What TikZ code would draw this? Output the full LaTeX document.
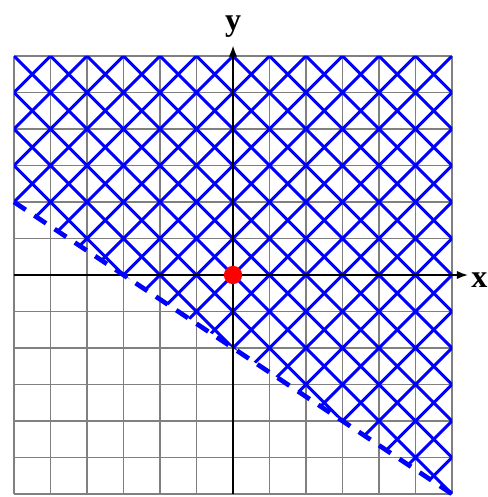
\documentclass[tikz,border=0pt]{standalone}
\usepackage{fontspec}
\setmainfont{Liberation Serif}
\usetikzlibrary{arrows.meta}
\tikzset{
  gridline/.style={draw=gray, line width=1.5pt},
  hatchline/.style={draw=blue, line width=2.4pt},
  axisline/.style={draw=black, line width=1.7pt, -{Latex[length=9pt,width=6.5pt]}},
  boundary/.style={draw=blue, line width=3.6pt, dash pattern=on 11pt off 8pt},
  axislabel/.style={inner sep=0pt, font=\fontsize{25}{28}\selectfont\bfseries},
}
\begin{document}
\begin{tikzpicture}
\useasboundingbox (-6.384,-6.082) rectangle (6.959,7.534);
% grid
\draw[gridline] (-6,-6) grid (6,6);
% hatched half-plane
\begin{scope}
  \clip (-6,2) -- (6,-6) -- (6,6) -- (-6,6) -- cycle;
  \foreach \k in {-14,...,14} {
    \draw[hatchline] (\k-8,-8) -- (\k+8,8);
    \draw[hatchline] (\k+8,-8) -- (\k-8,8);
  }
\end{scope}
% axes
\coordinate (xs) at (-6,0);
\coordinate (xe) at (6.45,0);
\coordinate (ys) at (0,-6);
\coordinate (ye) at (0,6.3);
\draw[axisline] (xs) -- (xe);
\draw[axisline] (ys) -- (ye);
\node[axislabel, anchor=base] (ylab) at (0,6.71) {y};
\node[axislabel, anchor=base west] (xlab) at (6.52,-0.356) {x};
% boundary line
\coordinate (b1) at (-6,2);
\coordinate (b2) at (6,-6);
\draw[boundary] (b1) -- (b2);
% origin point
\fill[red] (0,0) circle (0.25);
\end{tikzpicture}
\end{document}
